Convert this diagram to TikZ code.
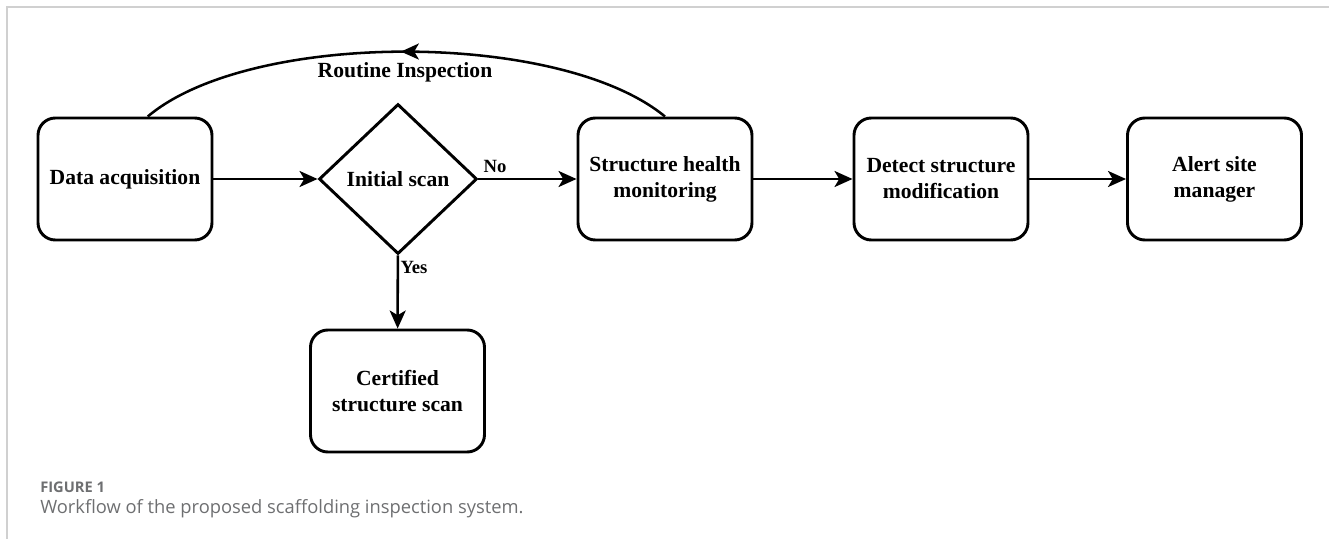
\documentclass[tikz,border=0pt]{standalone}
\usepackage{fontspec}
\setmainfont{Liberation Serif}
\newfontfamily\capfont{Open Sans}
\usetikzlibrary{arrows.meta,shapes.geometric,decorations.markings}
\definecolor{framegray}{HTML}{D0D0D0}
\definecolor{capgray}{HTML}{6E6F71}
\begin{document}
\begin{tikzpicture}[x=0.75pt,y=-0.75pt,
  stepbox/.style={draw,line width=2.2pt,rounded corners=13pt,minimum width=130.5pt,
    minimum height=91.5pt,inner sep=0pt,align=center,
    font=\bfseries\fontsize{16.2}{19.5}\selectfont},
  decision/.style={draw,line width=2.2pt,diamond,aspect=1.05,minimum width=118.5pt,
    minimum height=112.5pt,inner sep=0pt,font=\bfseries\fontsize{16.2}{19.5}\selectfont},
  flow/.style={line width=1.9pt,-{Stealth[length=13.5pt,width=12pt,inset=3.5pt]}},
  edgelabel/.style={font=\bfseries\fontsize{14}{16}\selectfont,inner sep=0pt}]
\useasboundingbox (0,0) rectangle (1329,539);
% page frame
\draw[framegray,line width=1.5pt] (7,539) -- (7,7) -- (1329,7);
% workflow steps
\node[stepbox] (data) at (125,179) {Data acquisition};
\node[decision] (scan) at (398,179) {Initial scan};
\node[stepbox] (shm) at (665,179) {Structure health\\monitoring};
\node[stepbox] (detect) at (941,179) {Detect structure\\modification};
\node[stepbox] (alert) at (1214.5,179) {Alert site\\manager};
\node[stepbox] (cert) at (397.5,391) {Certified\\structure scan};
% connectors
\draw[flow] (data) -- (scan);
\draw[flow] (scan) -- (shm);
\draw[flow] (shm) -- (detect);
\draw[flow] (detect) -- (alert);
\draw[flow] (scan) -- (cert);
\draw[line width=1.9pt,decoration={markings,mark=at position 0.51 with {\arrow{Stealth[length=13.5pt,width=12pt,inset=3.5pt]}}},postaction={decorate}]
  (shm.north) .. controls (560,30) and (250,30) .. (data.70);
% labels
\node[edgelabel] (no) at (495,166) {No};
\node[edgelabel] (yes) at (414,267) {Yes};
\node[font=\bfseries\fontsize{16.2}{19.5}\selectfont,inner sep=0pt] (routine) at (405,72) {Routine Inspection};
% caption
\node[anchor=base west,inner sep=0pt,text=capgray,font=\capfont\bfseries\fontsize{11}{13}\selectfont] (fig) at (40,492) {FIGURE 1};
\node[anchor=base west,inner sep=0pt,text=capgray,font=\capfont\fontsize{13.75}{16}\selectfont] (cap) at (40,513) {Workflow of the proposed scaffolding inspection system.};
\end{tikzpicture}
\end{document}
